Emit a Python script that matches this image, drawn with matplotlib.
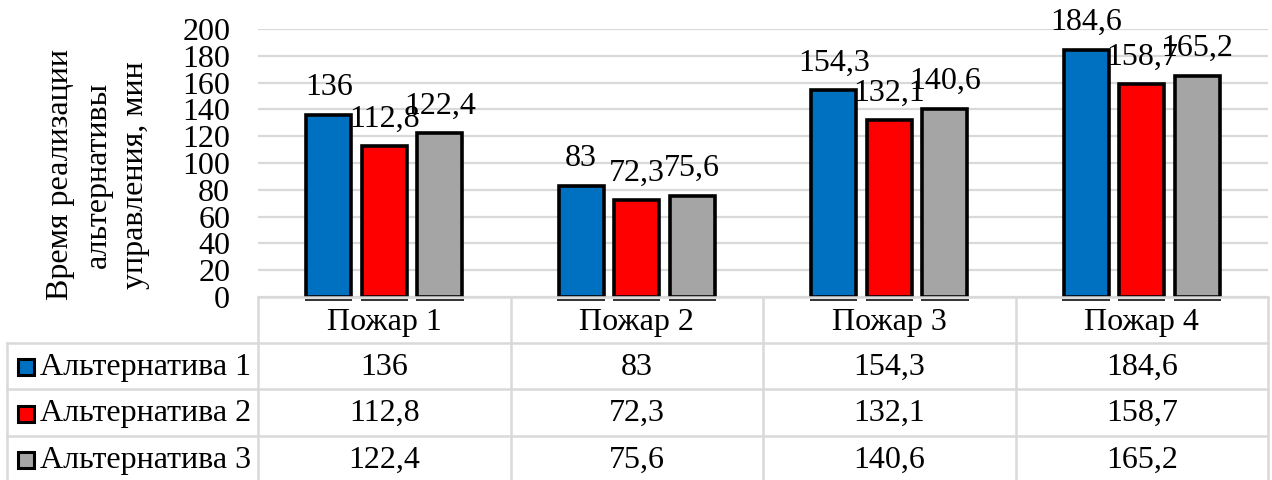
import numpy as np
import matplotlib.pyplot as plt

plt.rcParams['font.family'] = ['Liberation Serif', 'DejaVu Serif']

categories = ['Пожар 1', 'Пожар 2', 'Пожар 3', 'Пожар 4']
series_names = ['Альтернатива 1', 'Альтернатива 2', 'Альтернатива 3']
alt1 = [136, 83, 154.3, 184.6]
alt2 = [112.8, 72.3, 132.1, 158.7]
alt3 = [122.4, 75.6, 140.6, 165.2]
colors = ['#0070c0', '#ff0000', '#a5a5a5']
grid_c = '#d9d9d9'


def fmt(v):
    s = ('%g' % v)
    return s.replace('.', ',')


W, H = 1272, 480
fig = plt.figure(figsize=(W / 100, H / 100), dpi=100)

# chart area
ax = fig.add_axes([258 / W, 1 - 297 / H, 1010 / W, 268 / H])
x = np.arange(len(categories))
offs = [-0.22, 0, 0.22]
bw = 0.178
for vals, off, c in zip([alt1, alt2, alt3], offs, colors):
    ax.bar(x + off, vals, width=bw, color=c, edgecolor='black',
           linewidth=2.6, zorder=3)
    # thin shadow line just under each bar
    ax.hlines([-2.3] * len(x), x + off - bw / 2 - 0.005, x + off + bw / 2 + 0.005,
              color='#222222', lw=1.3, clip_on=False, zorder=3)
    for xi, v in zip(x, vals):
        ax.annotate(fmt(v), (xi + off, v), xytext=(0, 9),
                    textcoords='offset points', ha='center', va='bottom',
                    fontsize=23, zorder=4)

ax.set_xlim(-0.5, 3.5)
ax.set_ylim(0, 200)
ax.set_yticks(np.arange(0, 201, 20))
ax.tick_params(axis='y', length=0, pad=20, labelsize=23)
ax.set_xticks([])
ax.grid(axis='y', color=grid_c, lw=1.6, zorder=0)
for s in ax.spines.values():
    s.set_visible(False)

fig.text(98 / W, 1 - 175 / H,
         'Время реализации\nальтернативы\nуправления, мин',
         rotation=90, ha='center', va='center', fontsize=23,
         multialignment='center', linespacing=1.4)

# data table below the chart (pixel coordinates, y down)
tab = fig.add_axes([0, 0, 1, 183 / H])
tab.set_xlim(0, W)
tab.set_ylim(H, 297)
tab.axis('off')

col_edges = [258 + k * 1010 / len(categories) for k in range(len(categories) + 1)]
row_edges = [297, 343, 389, 436, 482]
lw = 1.8

tab.plot([col_edges[0], col_edges[-1]], [row_edges[0]] * 2, color=grid_c, lw=lw,
         clip_on=False)
for y in row_edges[1:4]:
    tab.plot([7, col_edges[-1]], [y, y], color=grid_c, lw=lw)
for xe in col_edges:
    tab.plot([xe, xe], [row_edges[0], row_edges[-1]], color=grid_c, lw=lw)
tab.plot([7, 7], [row_edges[1], row_edges[-1]], color=grid_c, lw=lw)

for j, name in enumerate(categories):
    cx = (col_edges[j] + col_edges[j + 1]) / 2
    tab.text(cx, (row_edges[0] + row_edges[1]) / 2 + 2, name,
             ha='center', va='center', fontsize=23)

for i, (name, vals, c) in enumerate(zip(series_names, [alt1, alt2, alt3], colors)):
    cy = (row_edges[i + 1] + row_edges[i + 2]) / 2 + 1
    tab.add_patch(plt.Rectangle((17.5, cy - 8), 16, 16, facecolor=c,
                                edgecolor='black', lw=2.2))
    tab.text(40, cy, name, ha='left', va='center', fontsize=23)
    for j, v in enumerate(vals):
        cx = (col_edges[j] + col_edges[j + 1]) / 2
        tab.text(cx, cy, fmt(v), ha='center', va='center', fontsize=23)

fig.savefig('out.png', dpi=100)
